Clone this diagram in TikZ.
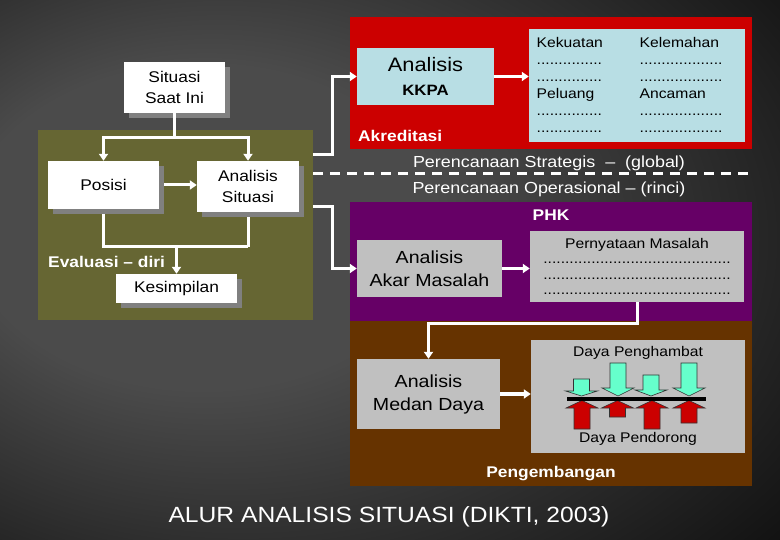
\documentclass[tikz,border=0pt]{standalone}
\usepackage{fontspec}
\setmainfont{Liberation Sans}[FakeStretch=1.12]
\usepackage{tikz}
\usetikzlibrary{arrows.meta}
\usetikzlibrary{shadows}
\definecolor{bginner}{HTML}{4B4B4B}
\definecolor{bgouter}{HTML}{050505}
\definecolor{olivepanel}{HTML}{666633}
\definecolor{kkpared}{HTML}{CC0000}
\definecolor{phkpurple}{HTML}{660066}
\definecolor{pengbrown}{HTML}{663300}
\definecolor{kkpablue}{HTML}{B8DEE4}
\definecolor{boxgrey}{HTML}{C0C0C0}
\definecolor{boxshadow}{HTML}{808080}
\definecolor{hambatcyan}{HTML}{66FFCC}
\definecolor{dorongred}{HTML}{CC0000}
\pgfdeclareradialshading{slidebg}{\pgfpoint{-15bp}{5bp}}{color(0bp)=(bginner); color(15bp)=(bginner); color(48bp)=(bgouter); color(75bp)=(bgouter)}
\tikzset{>={Triangle[length=7pt,width=9pt]}}
\tikzstyle{panel} = [rectangle, inner sep=0pt, draw=none]
\tikzstyle{whitebox} = [rectangle, fill=white, align=center, inner sep=2pt, font=\fontsize{15.5}{21.5}\selectfont, drop shadow={shadow xshift=5pt, shadow yshift=-5pt, fill=boxshadow, opacity=1}]
\tikzstyle{bluebox} = [rectangle, fill=kkpablue, align=center, inner sep=2pt]
\tikzstyle{greybox} = [rectangle, fill=boxgrey, align=center, inner sep=2pt]
\tikzstyle{tag} = [white, font=\bfseries\fontsize{15.5}{18}\selectfont, inner sep=0pt]
\tikzstyle{plain} = [inner sep=0pt, align=left]
\tikzstyle{arrow} = [white, line width=3pt, ->]
\tikzstyle{wire} = [white, line width=3pt]
\tikzstyle{hambat} = [fill=hambatcyan, draw=black!80, line width=.6pt]
\tikzstyle{dorong} = [fill=dorongred, draw=black!80, line width=.6pt]
% force field arrows: x centre, top, head start
\newcommand\hambatarrow[3]{%
    \filldraw[hambat] (#1-8,#2) -- (#1+8,#2) -- (#1+8,#3) -- (#1+16,#3) -- (#1,396) -- (#1-16,#3) -- (#1-8,#3) -- cycle;
}
% x centre, bottom
\newcommand\dorongarrow[2]{%
    \filldraw[dorong] (#1-8,#2) -- (#1-8,408) -- (#1-16,408) -- (#1,400.5) -- (#1+16,408) -- (#1+8,408) -- (#1+8,#2) -- cycle;
}
\begin{document}
\begin{tikzpicture}[x=1pt, y=-1pt]
    \useasboundingbox (0,0) rectangle (780,540);
    \shade[shading=slidebg] (0,0) rectangle (780,540);

    % panels
    \node[panel, fill=olivepanel, minimum width=275pt, minimum height=190pt] (olive) at (175.5,225) {};
    \node[panel, fill=kkpared, minimum width=402pt, minimum height=132pt] (akredpanel) at (551,83) {};
    \node[panel, fill=phkpurple, minimum width=402pt, minimum height=119pt] (phkpanel) at (551,261.5) {};
    \node[panel, fill=pengbrown, minimum width=402pt, minimum height=165pt] (pengpanel) at (551,403.5) {};

    \coordinate (dashR) at (752,174);
    \draw[white, line width=3pt, dash pattern=on 10pt off 7pt] (olive.east |- dashR) -- (dashR);
    \node[plain, anchor=base, white, font=\fontsize{16}{18}\selectfont] (strategis) at (549,167.5) {Perencanaan Strategis\ \ –\ \ (global)};
    \node[plain, anchor=base, white, font=\fontsize{16}{18}\selectfont] (operasional) at (549,193.5) {Perencanaan Operasional – (rinci)};

    % left block
    \node[whitebox, minimum width=101pt, minimum height=51pt] (situasi) at (174.5,87.5) {Situasi\\Saat Ini};
    \node[whitebox, minimum width=111pt, minimum height=48pt] (posisi) at (103.5,185) {Posisi};
    \node[whitebox, minimum width=102pt, minimum height=51pt] (anasit) at (248,186.5) {Analisis\\Situasi};
    \node[whitebox, minimum width=121pt, minimum height=29pt] (kesimp) at (176.5,288.5) {Kesimpilan};
    \node[tag, anchor=base west] (evaluasi) at (48,268) {Evaluasi – diri};

    \coordinate (topbus) at (0,138);
    \coordinate (botbus) at (0,247);
    \draw[wire] (situasi.south) -- (situasi.south |- topbus);
    \draw[arrow] (situasi.south |- topbus) -| (posisi.north);
    \draw[arrow] (situasi.south |- topbus) -| (anasit.north);
    \draw[arrow] ([xshift=5pt]posisi.east) -- (posisi.east -| anasit.west);
    \draw[wire, shorten <=5pt] (posisi.south) -- (posisi.south |- botbus) -- (anasit.south |- botbus);
    \draw[wire, shorten <=5pt] (anasit.south) -- (anasit.south |- botbus);
    \draw[arrow] (kesimp.north |- botbus) -- (kesimp.north);

    % akreditasi
    \node[bluebox, minimum width=137pt, minimum height=57pt, font=\fontsize{15}{23.5}\selectfont] (kkpa) at (425.5,76.5) {{\fontsize{19.5}{22}\selectfont Analisis}\\{\bfseries KKPA}};
    \node[bluebox, minimum width=216pt, minimum height=113pt] (swot) at (637,85.5) {};
    \node[plain, anchor=north west, font=\fontsize{14}{17}\selectfont] (swotL) at (536.5,37) {Kekuatan\\...............\\...............\\Peluang\\...............\\...............};
    \node[plain, anchor=north west, font=\fontsize{14}{17}\selectfont] (swotR) at (639.5,37) {Kelemahan\\...................\\...................\\Ancaman\\...................\\...................};
    \node[tag, anchor=base west] (akreditasi) at (358,142) {Akreditasi};

    % PHK
    \node[tag, anchor=base] (phk) at (551,221) {PHK};
    \node[greybox, minimum width=145pt, minimum height=57pt, font=\fontsize{17.5}{23.5}\selectfont] (akar) at (429.5,268.5) {Analisis\\Akar Masalah};
    \node[greybox, minimum width=214pt, minimum height=71pt, font=\fontsize{14}{15.5}\selectfont] (masalah) at (637,266.5) {Pernyataan Masalah\\...........................................\\...........................................\\...........................................};

    % pengembangan
    \node[greybox, minimum width=143pt, minimum height=70pt, font=\fontsize{17.5}{23}\selectfont] (medan) at (428.5,394) {Analisis\\Medan Daya};
    \node[greybox, minimum width=214pt, minimum height=113pt] (forcebox) at (638,396.5) {};
    \node[plain, anchor=base, font=\fontsize{14}{16}\selectfont] (penghambat) at (638,357) {Daya Penghambat};
    \node[plain, anchor=base, font=\fontsize{14}{16}\selectfont] (pendorong) at (638,442) {Daya Pendorong};
    \hambatarrow{581.5}{379}{391}
    \hambatarrow{618}{363}{388}
    \hambatarrow{651}{375}{390}
    \hambatarrow{689}{363}{388}
    \dorongarrow{582}{429}
    \dorongarrow{617.5}{417}
    \dorongarrow{652}{429}
    \dorongarrow{689}{423}
    \draw[line width=4pt] (567,398.5) -- (706,398.5);
    \node[tag, anchor=base] (pengembangan) at (551,477) {Pengembangan};

    % connectors to the right
    \coordinate (outA) at (313,155);
    \coordinate (outB) at (313,207);
    \coordinate (bendX) at (332,0);
    \draw[arrow] (outA) -- (outA -| bendX) |- (kkpa.west);
    \draw[arrow] (outB) -- (outB -| bendX) |- (akar.west);
    \draw[arrow] (kkpa.east) -- (kkpa.east -| swot.west);
    \draw[arrow] (akar.east) -- (akar.east -| masalah.west);
    \draw[arrow] (masalah.south) -- ++(0,21) -| (medan.north);
    \draw[arrow] (medan.east) -- (medan.east -| forcebox.west);

    \node[plain, anchor=base, white, font=\fontsize{22}{24}\selectfont] (judul) at (389,522) {ALUR ANALISIS SITUASI (DIKTI, 2003)};
\end{tikzpicture}
\end{document}
